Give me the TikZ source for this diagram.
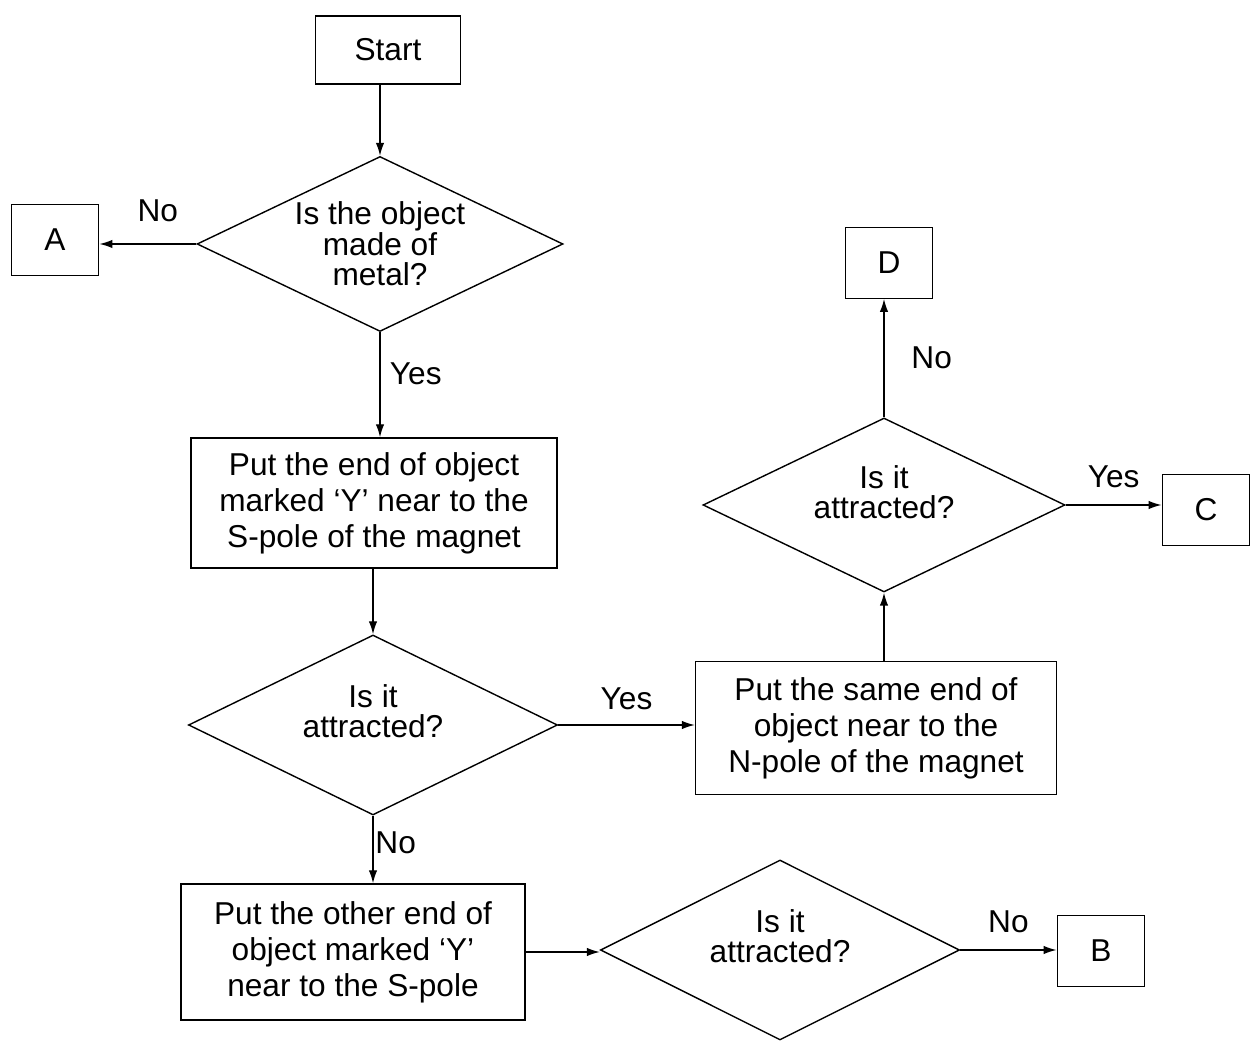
\documentclass[tikz,border=0pt]{standalone}
\usepackage{fontspec}
\setmainfont{Liberation Sans}
\usetikzlibrary{shapes.geometric, arrows.meta, positioning, calc}

\begin{document}
\begin{tikzpicture}[
  font=\fontsize{18}{20.5}\selectfont,
  every path/.style = {line width=0.8pt},
  box/.style    = {draw, inner sep=2pt, align=center},
  term/.style   = {box, minimum width=1.75cm, minimum height=1.41cm},
  dec/.style    = {draw, diamond, inner sep=0pt},
  txt/.style    = {align=center, inner sep=0pt, font=\fontsize{18}{17.4}\selectfont},
  arr/.style    = {-{Latex[length=2.6mm, width=1.7mm]}},
  lbl/.style    = {inner sep=1pt},
]
\useasboundingbox (0,0) rectangle (25.12,20.82);

\node[box, minimum width=2.9cm, minimum height=1.36cm] (start) at (7.76,19.82) {Start};

\node[dec, minimum width=7.32cm, minimum height=3.5cm] (q1) at (7.60,15.94) {};
\node[txt] (q1t) at (q1) {Is the object\\made of\\metal?};

\node[term] (a) at (1.10,16.02) {A};

\node[box, minimum width=7.32cm, minimum height=2.6cm] (spole) at (7.48,10.76)
     {Put the end of object\\marked `Y' near to the\\S-pole of the magnet};

\node[dec, minimum width=7.38cm, minimum height=3.6cm] (q2) at (7.46,6.32) {};
\node[txt, yshift=0.28cm] (q2t) at (q2) {Is it\\attracted?};

\node[box, minimum width=7.22cm, minimum height=2.66cm] (npole) at (17.52,6.26)
     {Put the same end of\\object near to the\\N-pole of the magnet};

\node[dec, minimum width=7.24cm, minimum height=3.48cm] (q3) at (17.68,10.72) {};
\node[txt, yshift=0.26cm] (q3t) at (q3) {Is it\\attracted?};

\node[term] (d) at (17.78,15.56) {D};
\node[term] (c) at (24.12,10.62) {C};

\node[box, minimum width=6.88cm, minimum height=2.72cm] (other) at (7.06,1.78)
     {Put the other end of\\object marked `Y'\\near to the S-pole};

\node[dec, minimum width=7.18cm, minimum height=3.6cm] (q4) at (15.60,1.82) {};
\node[txt, yshift=0.28cm] (q4t) at (q4) {Is it\\attracted?};

\node[term] (b) at (22.02,1.80) {B};

\draw[arr] (start.south -| q1.north) -- (q1.north);
\draw[arr] (q1.west) -- node[lbl, above=0.4cm, xshift=0.2cm]{No} (q1.west -| a.east);
\draw[arr] (q1.south) -- node[lbl, right=0.15cm, pos=0.4]{Yes} (q1.south |- spole.north);
\draw[arr] (spole.south -| q2.north) -- (q2.north);
\draw[arr] (q2.east) -- node[lbl, above=0.25cm]{Yes} (q2.east -| npole.west);
\draw[arr] (npole.north -| q3.south) -- (q3.south);
\draw[arr] (q3.north) -- node[lbl, right=0.5cm]{No} (q3.north |- d.south);
\draw[arr] (q3.east) -- node[lbl, above=0.3cm]{Yes} (q3.east -| c.west);
\draw[arr] (q2.south) -- node[lbl, right, pos=0.4]{No} (q2.south |- other.north);
\draw[arr] (other.east) -- (other.east -| q4.west);
\draw[arr] (q4.east) -- node[lbl, above=0.3cm]{No} (q4.east -| b.west);

\end{tikzpicture}
\end{document}
